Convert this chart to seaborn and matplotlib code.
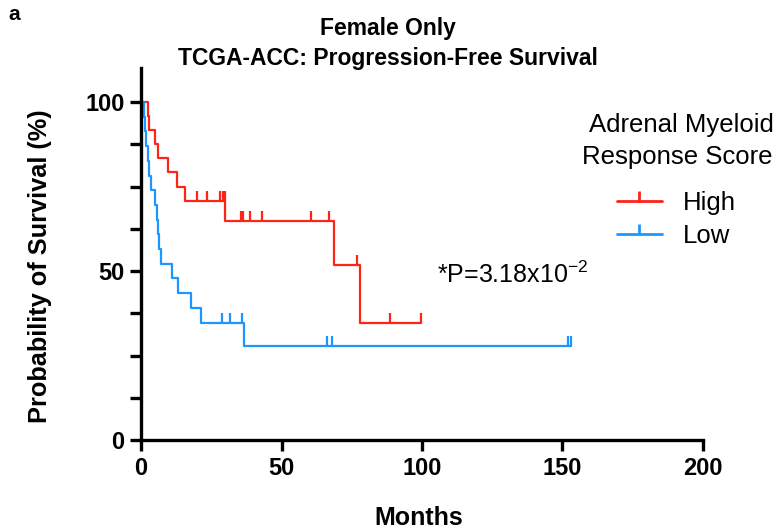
import pandas as pd
import matplotlib
matplotlib.use("Agg")
import matplotlib.pyplot as plt
from matplotlib.lines import Line2D
from matplotlib.ticker import MultipleLocator
import seaborn as sns


# event / censor times (months)
high_events = [2.4, 2.9, 4.8, 6.0, 9.5, 12.6, 15.6, 30.0, 68.5, 78.0]
high_censored = [20.0, 23.4, 28.2, 29.2, 29.8, 35.5, 36.2, 38.7, 43.0,
                 60.6, 66.8, 77.0, 88.6, 99.6]
low_events = [0.9, 1.3, 1.8, 2.3, 2.8, 3.6, 5.0, 5.6, 6.0, 6.5, 7.2,
              11.0, 13.2, 17.6, 21.2, 36.6]
low_censored = [28.8, 31.8, 36.0, 66.0, 68.0, 152.0, 153.0]

groups = ["High", "Low"]
colors = {"High": "#ff2418", "Low": "#1e96ff"}
p_text = "*P=3.18x10$^{\\mathregular{-2}}$"


def kaplan_meier(events, censored):
    """step points of the KM curve plus the y of each censor tick"""
    times = sorted(set(events) | set(censored))
    at_risk = len(events) + len(censored)
    s = 100.0
    xs, ys = [0.0], [100.0]
    cens_y = []
    for t in times:
        d = events.count(t)
        c = censored.count(t)
        if d:
            s *= 1 - d / at_risk
            xs.append(t)
            ys.append(s)
        cens_y += [s] * c
        at_risk -= d + c
    xs.append(times[-1])
    ys.append(s)
    return xs, ys, cens_y


curves = []
ticks = []
for g, ev, ce in [("High", high_events, high_censored), ("Low", low_events, low_censored)]:
    xs, ys, cy = kaplan_meier(ev, ce)
    curves.append(pd.DataFrame({"months": xs, "surv": ys, "group": g}))
    ticks.append(pd.DataFrame({"months": sorted(ce), "surv": cy, "group": g}))
df = pd.concat(curves, ignore_index=True)
df_ticks = pd.concat(ticks, ignore_index=True)

sns.set_style("ticks", {"axes.edgecolor": "black", "text.color": "black",
                        "xtick.color": "black", "ytick.color": "black",
                        "axes.labelcolor": "black"})
plt.rcParams["font.family"] = ["Liberation Sans", "DejaVu Sans"]

fig = plt.figure(figsize=(7.8, 5.29), dpi=100)
ax = fig.add_axes([0.181, 0.168, 0.72, 0.703])

sns.lineplot(data=df, x="months", y="surv", hue="group", palette=colors,
             estimator=None, sort=False, drawstyle="steps-post",
             linewidth=1.6, legend=False, ax=ax)
for g in groups:
    sub = df_ticks[df_ticks.group == g]
    ax.plot(sub.months, sub.surv, linestyle="none", marker=2, markersize=7,
            markeredgewidth=1.6, color=colors[g])

ax.set_xlim(0, 200)
ax.set_ylim(0, 110)
ax.set_xticks([0, 50, 100, 150, 200])
ax.set_yticks([0, 50, 100])
ax.yaxis.set_minor_locator(MultipleLocator(12.5))
ax.tick_params(axis="both", which="major", length=8, width=2.4, labelsize=17, pad=4)
ax.tick_params(axis="y", which="minor", length=8, width=2.4)
for lab in ax.get_xticklabels() + ax.get_yticklabels():
    lab.set_fontweight("bold")
for sp in ["left", "bottom"]:
    ax.spines[sp].set_linewidth(2.4)
sns.despine(ax=ax)

ax.set_xlabel("Months", fontsize=18, fontweight="bold")
ax.set_ylabel("Probability of Survival (%)", fontsize=18.3, fontweight="bold")
ax.xaxis.set_label_coords(0.495, -0.178)
ax.yaxis.set_label_coords(-0.158, 0.468)

ax.text(105.5, 48.8, p_text, fontsize=18, va="center", ha="left")

# legend: title as two centred lines, entries below
fig.text(681 / 780, 1 - 125 / 529, "Adrenal Myeloid", ha="center", va="center",
         fontsize=18.5)
fig.text(677 / 780, 1 - 157 / 529, "Response Score", ha="center", va="center",
         fontsize=18.5)
handles = [Line2D([], [], color=colors[g], lw=2, marker=2, markersize=7,
                  markeredgewidth=2) for g in groups]
ax.legend(handles, groups, loc="upper left", bbox_to_anchor=(0.791, 1 - 191 / 529),
          bbox_transform=fig.transFigure, frameon=False, fontsize=18.5,
          handlelength=1.75, borderpad=0, borderaxespad=0, labelspacing=0.35,
          handletextpad=0.8)

fig.text(0.497, 0.947, "Female Only", ha="center", va="center",
         fontsize=16.5, fontweight="bold")
fig.text(0.497, 0.89, "TCGA-ACC: Progression-Free Survival", ha="center", va="center",
         fontsize=16.5, fontweight="bold")
fig.text(0.011, 0.972, "a", ha="left", va="center", fontsize=15, fontweight="bold")

fig.savefig("out.png", dpi=100)
